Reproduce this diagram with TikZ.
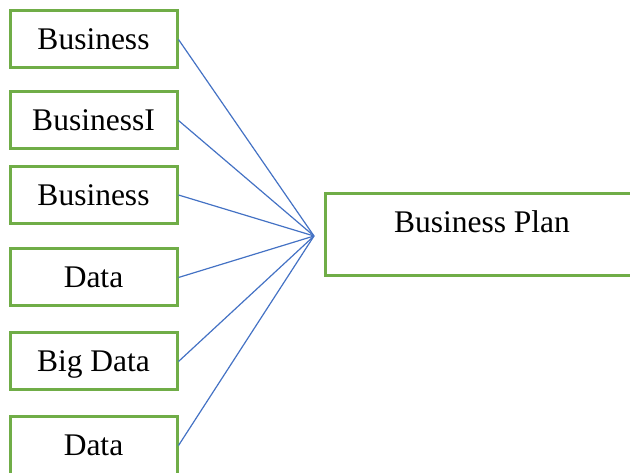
\documentclass[tikz,border=0pt]{standalone}
\usepackage{fontspec}
\setmainfont{Liberation Serif}
\definecolor{boxgreen}{HTML}{70AD47}
\definecolor{linkblue}{HTML}{4472C4}
\begin{document}
\begin{tikzpicture}[x=1pt,y=-1pt,
    box/.style={draw=boxgreen,line width=3pt,minimum width=167pt,minimum height=57pt,
      inner sep=0pt,text height=21pt,text depth=0pt,font=\fontsize{31.5}{36}\selectfont},
    link/.style={draw=linkblue,line width=1.2pt}]
  \useasboundingbox (0,0) rectangle (630,473);
  \clip (0,0) rectangle (630,473);
  % sources on the left
  \foreach \y/\txt [count=\i] in {39.5/Business,120.5/BusinessI,195/Business,
      277.5/Data,361.5/Big Data,445.5/Data}
    \node[box] (src\i) at (93.5,\y) {\txt};
  % target
  \node[box,minimum width=314pt,minimum height=82pt,text height=22pt,text depth=25pt]
    (plan) at (482,234.5) {Business Plan};
  \coordinate (hub) at (314,236);
  \foreach \i in {1,...,6}
    \draw[link] (src\i.east) -- (hub);
\end{tikzpicture}
\end{document}
